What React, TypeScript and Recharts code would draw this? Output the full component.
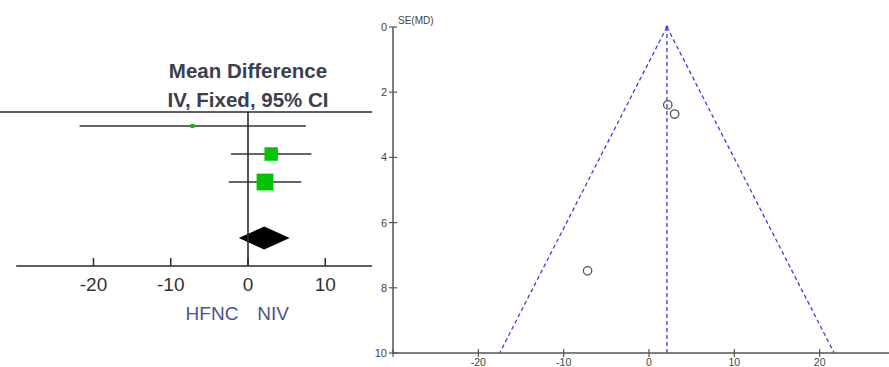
import React from 'react';
import {
  ComposedChart,
  ScatterChart,
  Scatter,
  XAxis,
  YAxis,
  ReferenceLine,
  ReferenceArea,
  ReferenceDot,
} from 'recharts';

// ---- Data ----
const studies = ['Study 1', 'Study 2', 'Study 3'];
const meanDiff = [-7.2, 3.0, 2.2];
const ciLower = [-21.8, -2.2, -2.5];
const ciUpper = [7.5, 8.2, 6.9];
const weights = [5.4, 42.1, 52.5];
const seMD = [7.48, 2.67, 2.39];
const studyRows = [0.5, 1.5, 2.5];

const pooledMD = 2.1;
const pooledLower = -1.2;
const pooledUpper = 5.4;
const pooledRow = 4.5;

const funnelMaxSE = 10;
const funnelLowerAtMaxSE = -17.5;
const funnelUpperAtMaxSE = 21.7;

const forestTicks = [-20, -10, 0, 10];
const funnelXTicks = [-30, -20, -10, 0, 10, 20];
const funnelYTicks = [0, 2, 4, 6, 8, 10];

const titleLines = ['Mean Difference', 'IV, Fixed, 95% CI'];
const favoursLeft = 'HFNC';
const favoursRight = 'NIV';

const forestData = studies.map((s, i) => ({ name: s, x: meanDiff[i], y: studyRows[i], w: weights[i] }));
const funnelData = studies.map((s, i) => ({ name: s, x: meanDiff[i], y: seMD[i] }));

const INK = '#2a2a2a';
const GREEN = '#00c400';
const BLUE = '#3b3bea';
const GRAY = '#555';

const ForestTick = (props: any) => {
  const { x, y, payload } = props;
  return (
    <g>
      <line x1={x} x2={x} y1={y - 8} y2={y} stroke={INK} strokeWidth={1.5} />
      <text x={x} y={y + 25} textAnchor="middle" fontSize={19} fill="#333">
        {payload.value}
      </text>
    </g>
  );
};

const FunnelXTick = (props: any) => {
  const { x, y, payload } = props;
  return (
    <g>
      <line x1={x} x2={x} y1={y - 4} y2={y + 4} stroke={GRAY} strokeWidth={1.2} />
      {payload.value !== -30 && (
        <text x={x} y={y + 13} textAnchor="middle" fontSize={10.5} fill="#444">
          {payload.value}
        </text>
      )}
    </g>
  );
};

const FunnelYTick = (props: any) => {
  const { x, y, payload } = props;
  return (
    <g>
      <line x1={x - 4} x2={x + 4} y1={y} y2={y} stroke={GRAY} strokeWidth={1.2} />
      <text x={x - 6} y={y + 4} textAnchor="end" fontSize={11} fill="#444">
        {payload.value}
      </text>
    </g>
  );
};

const SquareShape = (props: any) => {
  const { cx, cy, payload } = props;
  const s = Math.max(4, payload.w * 0.32);
  return <rect x={cx - s / 2} y={cy - s / 2} width={s} height={s} fill={GREEN} />;
};

const DiamondShape = (props: any) => {
  const { x, y, width, height } = props;
  const mx = x + width / 2;
  const my = y + height / 2;
  return (
    <polygon
      points={`${x},${my} ${mx},${y} ${x + width},${my} ${mx},${y + height}`}
      fill="#000"
    />
  );
};

const CircleShape = (props: any) => {
  const { cx, cy } = props;
  return <circle cx={cx} cy={cy} r={4.2} fill="none" stroke={GRAY} strokeWidth={1.3} />;
};

export default function App() {
  return (
    <div
      style={{
        position: 'absolute',
        left: 0,
        top: 0,
        width: 889,
        height: 367,
        overflow: 'hidden',
        background: '#fff',
        fontFamily: '"Liberation Sans", Arial, sans-serif',
      }}
    >
      {/* Forest plot */}
      <div style={{ position: 'absolute', left: 0, top: 0 }}>
        <ComposedChart width={372} height={367} margin={{ top: 112, right: 0, bottom: 0, left: 0 }}>
          <XAxis
            type="number"
            dataKey="x"
            domain={[-32.1, 16.05]}
            ticks={forestTicks}
            allowDataOverflow
            axisLine={false}
            tickLine={false}
            tickSize={0}
            tickMargin={0}
            height={101}
            tick={<ForestTick />}
            interval={0}
          />
          <YAxis type="number" dataKey="y" domain={[0, 5.5]} reversed hide width={0} allowDataOverflow />
          <ReferenceLine y={0} stroke={INK} strokeWidth={1.6} />
          <ReferenceLine
            segment={[{ x: -30, y: 5.5 }, { x: 16.05, y: 5.5 }]}
            stroke={INK}
            strokeWidth={1.6}
          />
          {studies.map((s, i) => (
            <ReferenceLine
              key={s}
              segment={[{ x: ciLower[i], y: studyRows[i] }, { x: ciUpper[i], y: studyRows[i] }]}
              stroke="#333"
              strokeWidth={1.6}
            />
          ))}
          <ReferenceLine x={0} stroke={INK} strokeWidth={1.6} />
          <ReferenceArea
            x1={pooledLower}
            x2={pooledUpper}
            y1={pooledRow - 0.41}
            y2={pooledRow + 0.41}
            shape={<DiamondShape />}
          />
          <Scatter data={forestData} dataKey="y" shape={<SquareShape />} isAnimationActive={false} />
          <ReferenceDot
            x={0}
            y={5.5}
            r={0}
            label={{ value: favoursLeft, position: 'insideBottom', fontSize: 19, fill: '#4a5488', dx: -36, dy: 59 } as any}
          />
          <ReferenceDot
            x={0}
            y={5.5}
            r={0}
            label={{ value: favoursRight, position: 'insideBottom', fontSize: 19, fill: '#4a5488', dx: 25, dy: 59 } as any}
          />
        </ComposedChart>
        <svg
          width={372}
          height={112}
          style={{ position: 'absolute', left: 0, top: 0, pointerEvents: 'none' }}
        >
          <text x={248} y={78} textAnchor="middle" fontSize={20.5} fontWeight="bold" fill="#3b3f4f">
            {titleLines[0]}
          </text>
          <text x={248} y={107} textAnchor="middle" fontSize={20.5} fontWeight="bold" fill="#3b3f4f">
            {titleLines[1]}
          </text>
        </svg>
      </div>

      {/* Funnel plot */}
      <div style={{ position: 'absolute', left: 370, top: 0 }}>
        <ScatterChart width={535} height={367} margin={{ top: 27, right: 0, bottom: 0, left: 0 }}>
          <XAxis
            type="number"
            dataKey="x"
            domain={[-30, 30]}
            ticks={funnelXTicks}
            interval={0}
            allowDataOverflow
            axisLine={{ stroke: GRAY, strokeWidth: 1.5 }}
            tickLine={false}
            tickSize={0}
            tickMargin={0}
            height={14}
            tick={<FunnelXTick />}
          />
          <YAxis
            type="number"
            dataKey="y"
            domain={[0, funnelMaxSE]}
            reversed
            ticks={funnelYTicks}
            interval={0}
            allowDataOverflow
            axisLine={{ stroke: GRAY, strokeWidth: 1.5 }}
            tickLine={false}
            tickSize={0}
            tickMargin={0}
            width={23}
            tick={<FunnelYTick />}
            label={{
              content: (p: any) => (
                <text x={p.viewBox.x + p.viewBox.width + 5} y={p.viewBox.y - 3} fontSize={10} fill="#444">
                  SE(MD)
                </text>
              ),
            } as any}
          />
          <ReferenceLine
            segment={[{ x: pooledMD, y: 0 }, { x: funnelLowerAtMaxSE, y: funnelMaxSE }]}
            stroke={BLUE}
            strokeWidth={1.3}
            strokeDasharray="4 3"
          />
          <ReferenceLine
            segment={[{ x: pooledMD, y: 0 }, { x: funnelUpperAtMaxSE, y: funnelMaxSE }]}
            stroke={BLUE}
            strokeWidth={1.3}
            strokeDasharray="4 3"
          />
          <ReferenceLine
            segment={[{ x: pooledMD, y: 0 }, { x: pooledMD, y: funnelMaxSE }]}
            stroke={BLUE}
            strokeWidth={1.3}
            strokeDasharray="4 3"
          />
          <ReferenceDot x={pooledMD} y={0} r={1.5} fill={BLUE} stroke="none" />
          <ReferenceDot
            x={27.6}
            y={funnelMaxSE}
            r={0}
            label={{ value: 'MD', position: 'right', fontSize: 11, fill: '#444', dy: -8 } as any}
          />
          <Scatter data={funnelData} dataKey="y" shape={<CircleShape />} isAnimationActive={false} />
        </ScatterChart>
      </div>
    </div>
  );
}
